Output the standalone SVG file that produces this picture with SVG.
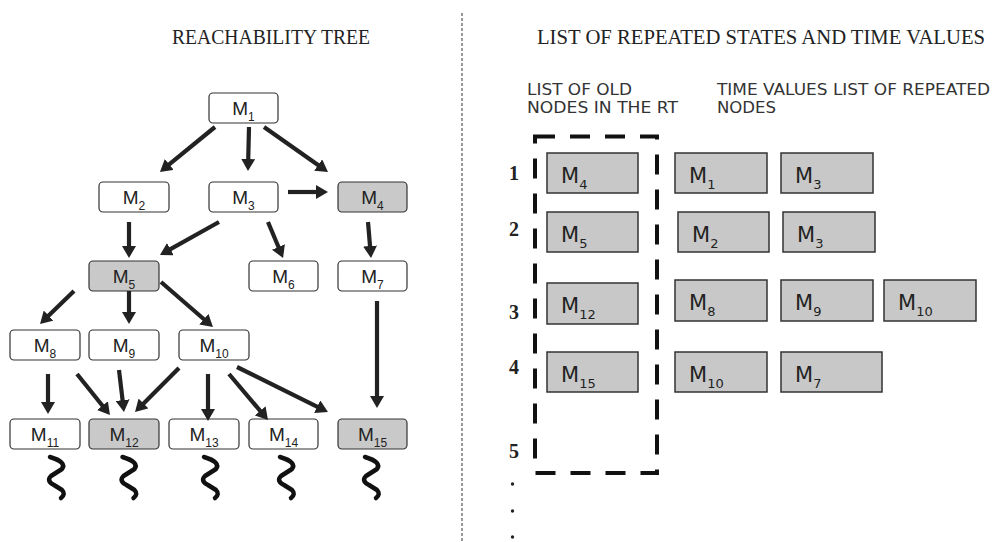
<svg xmlns="http://www.w3.org/2000/svg" width="998" height="542" viewBox="0 0 998 542">
<defs>
<marker id="ah" markerUnits="userSpaceOnUse" markerWidth="13" markerHeight="14" refX="2" refY="7" orient="auto">
<path d="M0,0 L12,7 L0,14 z" fill="#222"/>
</marker>
<style>
.n rect{fill:#fff;stroke:#333;stroke-width:1.2}
.n.g rect{fill:#c9c9c9}
.n text{font-family:"Liberation Sans",Arial,sans-serif;font-size:19px;fill:#222;text-anchor:middle}
.n tspan{font-size:12px}
.c line{stroke:#222;stroke-width:4.2;marker-end:url(#ah)}
.sq path{fill:none;stroke:#111;stroke-width:4.5;stroke-linecap:round;stroke-linejoin:round}
.b rect{fill:#c8c8c8;stroke:#333;stroke-width:1.5}
.b text{font-family:"DejaVu Sans",Verdana,sans-serif;font-size:21px;fill:#222}
.b tspan{font-size:13px}
.ttl{font-family:"Liberation Serif","Times New Roman",serif;font-size:20px;fill:#222}
.lab{font-family:"DejaVu Sans",Verdana,sans-serif;font-size:15px;fill:#333}
.num{font-family:"Liberation Serif","Times New Roman",serif;font-size:20px;font-weight:bold;fill:#222}
</style>
</defs>
<rect width="998" height="542" fill="#fff"/>
<text class="ttl" x="172" y="44" textLength="198" lengthAdjust="spacingAndGlyphs">REACHABILITY TREE</text>
<text class="ttl" x="537" y="44" textLength="448" lengthAdjust="spacingAndGlyphs">LIST OF REPEATED STATES AND TIME VALUES</text>
<line x1="462" y1="13" x2="462" y2="542" stroke="#777" stroke-width="1.5" stroke-dasharray="3 2"/>

<g id="M1" class="n"><rect x="209" y="93" width="69" height="30" rx="4"/><text x="243.5" y="115">M<tspan dy="6">1</tspan></text></g>
<g id="M2" class="n"><rect x="99" y="182" width="70" height="30" rx="4"/><text x="134" y="204">M<tspan dy="6">2</tspan></text></g>
<g id="M3" class="n"><rect x="209" y="182" width="69" height="30" rx="4"/><text x="243.5" y="204">M<tspan dy="6">3</tspan></text></g>
<g id="M4" class="n g"><rect x="338" y="182" width="69" height="30" rx="4"/><text x="372.5" y="204">M<tspan dy="6">4</tspan></text></g>
<g id="M5" class="n g"><rect x="89" y="261" width="70" height="30" rx="4"/><text x="124" y="283">M<tspan dy="6">5</tspan></text></g>
<g id="M6" class="n"><rect x="249" y="261" width="69" height="30" rx="4"/><text x="283.5" y="283">M<tspan dy="6">6</tspan></text></g>
<g id="M7" class="n"><rect x="338" y="261" width="69" height="30" rx="4"/><text x="372.5" y="283">M<tspan dy="6">7</tspan></text></g>
<g id="M8" class="n"><rect x="10" y="330" width="70" height="30" rx="4"/><text x="45" y="352">M<tspan dy="6">8</tspan></text></g>
<g id="M9" class="n"><rect x="89" y="330" width="70" height="30" rx="4"/><text x="124" y="352">M<tspan dy="6">9</tspan></text></g>
<g id="M10" class="n"><rect x="179" y="330" width="70" height="30" rx="4"/><text x="214" y="352">M<tspan dy="6">10</tspan></text></g>
<g id="M11" class="n"><rect x="10" y="419" width="70" height="30" rx="4"/><text x="45" y="441">M<tspan dy="6">11</tspan></text></g>
<g id="M12" class="n g"><rect x="89" y="419" width="70" height="30" rx="4"/><text x="124" y="441">M<tspan dy="6">12</tspan></text></g>
<g id="M13" class="n"><rect x="169" y="419" width="70" height="30" rx="4"/><text x="204" y="441">M<tspan dy="6">13</tspan></text></g>
<g id="M14" class="n"><rect x="249" y="419" width="69" height="30" rx="4"/><text x="283.5" y="441">M<tspan dy="6">14</tspan></text></g>
<g id="M15" class="n g"><rect x="338" y="419" width="69" height="30" rx="4"/><text x="372.5" y="441">M<tspan dy="6">15</tspan></text></g>

<g id="connectors" class="c">
<line x1="215" y1="127" x2="167.7" y2="165.7"/>
<line x1="249" y1="127" x2="248.2" y2="161"/>
<line x1="264" y1="127" x2="319.8" y2="166.2"/>
<line x1="288" y1="192" x2="318" y2="192"/>
<line x1="129" y1="222" x2="129" y2="248"/>
<line x1="219" y1="222" x2="168.7" y2="250.1"/>
<line x1="268" y1="222" x2="279.2" y2="248.8"/>
<line x1="368" y1="222" x2="370.2" y2="248"/>
<line x1="74" y1="291" x2="47.2" y2="317"/>
<line x1="129" y1="291" x2="129" y2="314"/>
<line x1="161" y1="282" x2="205.4" y2="320.5"/>
<line x1="377" y1="301" x2="377" y2="398"/>
<line x1="48" y1="374" x2="48" y2="404"/>
<line x1="77" y1="374" x2="103.7" y2="407.2"/>
<line x1="119" y1="370" x2="122.8" y2="402.1"/>
<line x1="179" y1="368" x2="142.1" y2="404.9"/>
<line x1="208" y1="374" x2="208" y2="411"/>
<line x1="229" y1="374" x2="261.5" y2="412.4"/>
<line x1="237" y1="367" x2="319" y2="407.6"/>
</g>

<g id="squiggles" class="sq">
<path d="M50,457 Q67,462 62,469 L51,476 Q46,481 54,485 L62,490 Q66,494 61,498"/>
<path d="M122.5,457 Q139.5,462 134.5,469 L123.5,476 Q118.5,481 126.5,485 L134.5,490 Q138.5,494 133.5,498"/>
<path d="M204,457 Q221,462 216,469 L205,476 Q200,481 208,485 L216,490 Q220,494 215,498"/>
<path d="M280,457 Q297,462 292,469 L281,476 Q276,481 284,485 L292,490 Q296,494 291,498"/>
<path d="M365,457 Q382,462 377,469 L366,476 Q361,481 369,485 L377,490 Q381,494 376,498"/>
</g>

<text class="lab" x="527" y="95" textLength="105" lengthAdjust="spacingAndGlyphs">LIST OF OLD</text>
<text class="lab" x="527" y="113" textLength="151" lengthAdjust="spacingAndGlyphs">NODES IN THE RT</text>
<text class="lab" x="717" y="95" textLength="273" lengthAdjust="spacingAndGlyphs">TIME VALUES LIST OF REPEATED</text>
<text class="lab" x="717" y="113" textLength="59" lengthAdjust="spacingAndGlyphs">NODES</text>

<path d="M535,136.5 H657 V473 H535 Z" fill="none" stroke="#111" stroke-width="4" stroke-dasharray="20 15"/>

<text class="num" x="509" y="180">1</text>
<text class="num" x="509" y="236">2</text>
<text class="num" x="509" y="319">3</text>
<text class="num" x="509" y="374">4</text>
<text class="num" x="509" y="458">5</text>
<circle cx="512.5" cy="484" r="1.7" fill="#222"/>
<circle cx="512.5" cy="511" r="1.7" fill="#222"/>
<circle cx="512.5" cy="537" r="1.7" fill="#222"/>

<g id="R1a" class="b"><rect x="547" y="153" width="91" height="40"/><text x="561" y="183">M<tspan dy="6">4</tspan></text></g>
<g id="R1b" class="b"><rect x="675" y="153" width="92" height="40"/><text x="689" y="183">M<tspan dy="6">1</tspan></text></g>
<g id="R1c" class="b"><rect x="781" y="153" width="92" height="40"/><text x="795" y="183">M<tspan dy="6">3</tspan></text></g>
<g id="R2a" class="b"><rect x="547" y="212" width="91" height="40"/><text x="561" y="242">M<tspan dy="6">5</tspan></text></g>
<g id="R2b" class="b"><rect x="678" y="212" width="91" height="40"/><text x="692" y="242">M<tspan dy="6">2</tspan></text></g>
<g id="R2c" class="b"><rect x="783" y="212" width="92" height="40"/><text x="797" y="242">M<tspan dy="6">3</tspan></text></g>
<g id="R3a" class="b"><rect x="547" y="283" width="91" height="41"/><text x="561" y="313">M<tspan dy="6">12</tspan></text></g>
<g id="R3b" class="b"><rect x="675" y="280" width="92" height="41"/><text x="689" y="310">M<tspan dy="6">8</tspan></text></g>
<g id="R3c" class="b"><rect x="781" y="280" width="92" height="41"/><text x="795" y="310">M<tspan dy="6">9</tspan></text></g>
<g id="R3d" class="b"><rect x="884" y="280" width="92" height="41"/><text x="898" y="310">M<tspan dy="6">10</tspan></text></g>
<g id="R4a" class="b"><rect x="547" y="352" width="91" height="40"/><text x="561" y="382">M<tspan dy="6">15</tspan></text></g>
<g id="R4b" class="b"><rect x="675" y="352" width="92" height="40"/><text x="689" y="382">M<tspan dy="6">10</tspan></text></g>
<g id="R4c" class="b"><rect x="781" y="352" width="101" height="40"/><text x="795" y="382">M<tspan dy="6">7</tspan></text></g>
</svg>
